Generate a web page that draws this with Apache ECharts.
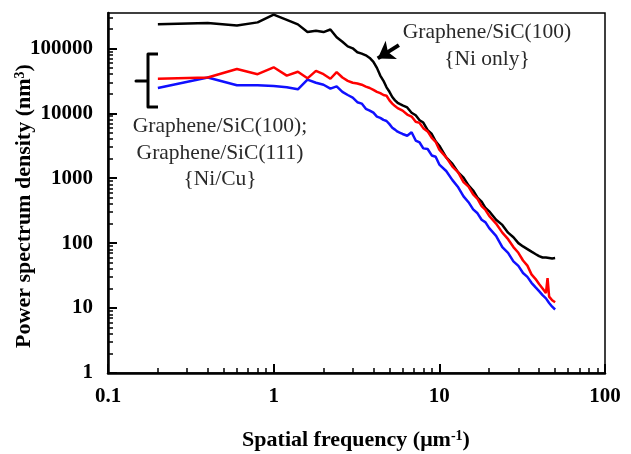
<!DOCTYPE html>
<html>
<head>
<meta charset="utf-8">
<script src="https://cdn.jsdelivr.net/npm/echarts@6.0.0/dist/echarts.min.js"></script>
<style>
  html, body { margin: 0; padding: 0; background: #fff; }
  #chart { width: 631px; height: 454px; }
</style>
</head>
<body>
<div id="chart"></div>
<script>
  // spatial frequency (um^-1)
  var freq = [0.2, 0.4, 0.6, 0.8, 1.0, 1.2, 1.4, 1.6, 1.8, 2.0, 2.2, 2.4, 2.6, 2.8, 3.0, 3.2, 3.4, 3.6, 3.8, 4.0,
    4.2, 4.4, 4.6, 4.8, 5.0, 5.2, 5.4, 5.6, 5.8, 6.0, 6.4, 6.8, 7.2, 7.6, 8.0, 8.5, 9.0, 9.5, 10, 11,
    12, 13, 14, 15, 16, 17, 18, 19, 20, 22, 24, 26, 28, 30, 32, 34, 36, 38, 40, 42, 44, 45, 46, 48, 50];

  // Graphene/SiC(100) {Ni only}
  var psdNiOnly = [234000, 245000, 224000, 251000, 331000, 275000, 234000, 178000, 186000, 178000,
    195000, 148000, 126000, 107000, 100000, 87000, 83000, 78000, 71000, 62000,
    50000, 38000, 31600, 25100, 21400, 17800, 15800, 14500, 13800, 13200,
    12300, 10200, 9300, 7800, 7200, 5500, 4800, 3700, 3160, 2090,
    1660, 1230, 1020, 776, 646, 501, 437, 347, 309, 229,
    191, 145, 123, 100, 89, 81, 74, 68, 63, 60, 60, 59, 59, 58, 59];

  // Graphene/SiC(100) {Ni/Cu}
  var psdRed = [34000, 35500, 48000, 40000, 51000, 38000, 43500, 34500, 45000, 40000,
    34000, 43000, 35500, 31600, 29500, 28800, 27500, 25700, 24500, 22900,
    21400, 20400, 19100, 18600, 15800, 14100, 12900, 12000, 11500, 11000,
    9550, 8900, 7400, 7100, 5900, 5250, 4170, 3630, 2750, 2090,
    1510, 1230, 870, 741, 562, 479, 372, 324, 263, 200,
    145, 115, 87, 71, 54, 45, 33, 28.2, 23.4, 20, 17, 29, 15, 13.2, 12.3];

  // Graphene/SiC(111) {Ni/Cu}
  var psdBlue = [24500, 35500, 27000, 27000, 26300, 25100, 23400, 33000, 29500, 27500,
    24000, 26000, 21400, 19100, 17400, 14800, 14100, 11700, 11000, 10200,
    8900, 8500, 7900, 7600, 6800, 6000, 5600, 5200, 5000, 4800,
    4500, 5100, 3800, 3550, 2880, 2820, 2240, 2140, 1620, 1290,
    933, 724, 525, 427, 331, 288, 229, 209, 170, 129,
    87, 71, 52.5, 44.7, 34.7, 30.2, 24.5, 21, 18.2, 15.8, 14.1, 13.2, 12, 10.5, 9.5];

  var xMajor = [0.1, 1, 10, 100];
  var yMajor = [1, 10, 100, 1000, 10000, 100000];

  function minorTicks(lo, hi) {
    var out = [];
    for (var d = lo; d < hi; d *= 10) {
      for (var k = 2; k <= 9; k++) out.push(+(k * d).toPrecision(3));
    }
    return out;
  }
  var xMinor = minorTicks(0.1, 100);
  var yMinor = minorTicks(1, 1000000).filter(function (v) { return v < 350000; });

  function pairs(ys) {
    return freq.map(function (f, i) { return [f, ys[i]]; });
  }

  var serif = "'Liberation Serif', 'Times New Roman', serif";
  var labelStyle = {
    fontFamily: serif, fontWeight: 'bold', fontSize: 21, color: '#000',
    formatter: function (v) { return String(v); }
  };

  var chart = echarts.init(document.getElementById('chart'));
  chart.setOption({
    animation: false,
    backgroundColor: '#fff',
    grid: {
      left: 108, top: 13, right: 26, bottom: 81,
      show: true, borderColor: '#000', borderWidth: 1.5
    },
    xAxis: [
      {
        type: 'log', logBase: 10, min: 0.1, max: 100,
        axisLine: { lineStyle: { color: '#000', width: 2.5 } },
        axisTick: { inside: true, length: 9, lineStyle: { color: '#000', width: 2 }, customValues: xMajor },
        axisLabel: Object.assign({ margin: 13, customValues: xMajor }, labelStyle),
        splitLine: { show: false }
      },
      {
        type: 'log', logBase: 10, min: 0.1, max: 100, position: 'bottom',
        axisLine: { show: false },
        axisTick: { inside: true, length: 5, lineStyle: { color: '#000', width: 1.5 }, customValues: xMinor },
        axisLabel: { show: false },
        splitLine: { show: false }
      }
    ],
    yAxis: [
      {
        type: 'log', logBase: 10, min: 1, max: 350000,
        axisLine: { lineStyle: { color: '#000', width: 2.5 } },
        axisTick: { inside: true, length: 9, lineStyle: { color: '#000', width: 2 }, customValues: yMajor },
        axisLabel: Object.assign({ margin: 15, customValues: yMajor, padding: [6, 0, 0, 0] }, labelStyle),
        splitLine: { show: false }
      },
      {
        type: 'log', logBase: 10, min: 1, max: 350000, position: 'left',
        axisLine: { show: false },
        axisTick: { inside: true, length: 5, lineStyle: { color: '#000', width: 1.5 }, customValues: yMinor },
        axisLabel: { show: false },
        splitLine: { show: false }
      }
    ],
    series: [
      {
        name: 'Graphene/SiC(100) {Ni only}', type: 'line', showSymbol: false,
        data: pairs(psdNiOnly),
        lineStyle: { color: '#000', width: 2.5 }, itemStyle: { color: '#000' },
        markLine: {
          silent: true, animation: false,
          symbol: ['none', 'arrow'], symbolSize: 16,
          label: { show: false },
          lineStyle: { color: '#000', width: 4, type: 'solid' },
          data: [[{ coord: [5.7, 112000] }, { coord: [4.25, 70000] }]]
        }
      },
      {
        name: 'Graphene/SiC(111) {Ni/Cu}', type: 'line', showSymbol: false,
        data: pairs(psdBlue),
        lineStyle: { color: '#1010ff', width: 2.5 }, itemStyle: { color: '#1010ff' }
      },
      {
        name: 'Graphene/SiC(100) {Ni/Cu}', type: 'line', showSymbol: false,
        data: pairs(psdRed),
        lineStyle: { color: '#ff0000', width: 2.5 }, itemStyle: { color: '#ff0000' }
      }
    ],
    graphic: [
      {
        type: 'text', x: 487, y: 46,
        style: {
          text: 'Graphene/SiC(100)\n{Ni only}', fontFamily: serif, fontSize: 21.5,
          fill: '#2a2a2a', align: 'center', verticalAlign: 'middle', lineHeight: 27
        }
      },
      {
        type: 'text', x: 220, y: 153,
        style: {
          text: 'Graphene/SiC(100);\nGraphene/SiC(111)\n{Ni/Cu}', fontFamily: serif, fontSize: 21.5,
          fill: '#2a2a2a', align: 'center', verticalAlign: 'middle', lineHeight: 26.5
        }
      },
      {
        type: 'polyline',
        shape: { points: [[158, 54], [148, 54], [148, 81], [136, 81], [148, 81], [148, 107], [158, 107]] },
        style: { stroke: '#000', lineWidth: 3, fill: null, lineJoin: 'round' }
      },
      {
        type: 'text', x: 356, y: 440,
        style: {
          rich: {
            a: { fontFamily: serif, fontWeight: 'bold', fontSize: 22, fill: '#000' },
            s: { fontFamily: serif, fontWeight: 'bold', fontSize: 14, fill: '#000', verticalAlign: 'top' }
          },
          text: '{a|Spatial frequency (\u03bcm}{s|-1}{a|)}',
          align: 'center', verticalAlign: 'middle'
        }
      },
      {
        type: 'text', x: 24, y: 206, rotation: Math.PI / 2,
        style: {
          rich: {
            a: { fontFamily: serif, fontWeight: 'bold', fontSize: 22, fill: '#000' },
            s: { fontFamily: serif, fontWeight: 'bold', fontSize: 14, fill: '#000', verticalAlign: 'top' }
          },
          text: '{a|Power spectrum density (nm}{s|3}{a|)}',
          align: 'center', verticalAlign: 'middle'
        }
      }
    ]
  });
</script>
</body>
</html>
